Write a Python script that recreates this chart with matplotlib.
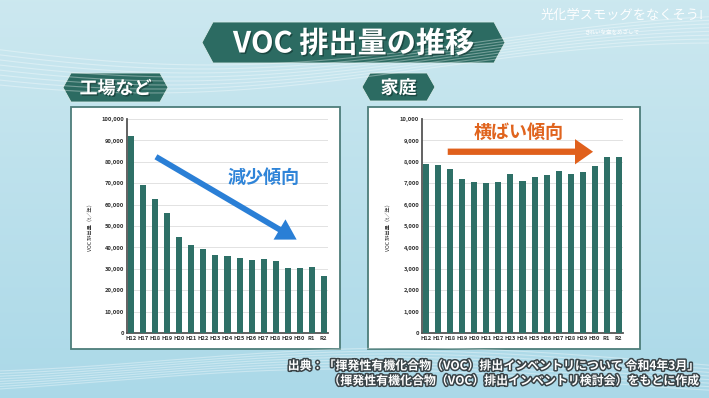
import numpy as np
import matplotlib.pyplot as plt
import matplotlib.patheffects as pe
from matplotlib.patches import Polygon, Rectangle

plt.rcParams['font.family'] = ['Noto Sans CJK JP', 'DejaVu Sans']

# data (t/year)
years = ['H12', 'H17', 'H18', 'H19', 'H20', 'H21', 'H22', 'H23', 'H24',
         'H25', 'H26', 'H27', 'H28', 'H29', 'H30', 'R1', 'R2']
factory = [92000, 69000, 62800, 55900, 44700, 41000, 39100, 36400, 35800,
           35000, 34000, 34600, 33500, 30400, 30400, 30800, 26600]
household = [7900, 7850, 7650, 7210, 7060, 7010, 7060, 7410, 7100,
             7290, 7380, 7550, 7450, 7520, 7800, 8210, 8210]

W, H = 709, 398
fig = plt.figure(figsize=(W / 100, H / 100), dpi=100)

# background: pale blue gradient with a few soft wave lines
bg = fig.add_axes([0, 0, 1, 1])
bg.set_xlim(0, W)
bg.set_ylim(H, 0)
bg.axis('off')
grad = np.linspace(0, 1, 200)[:, None]
top = np.array([0.80, 0.91, 0.94])
bot = np.array([0.67, 0.85, 0.91])
img = top + (bot - top) * grad[..., None]
bg.imshow(np.repeat(img, 2, axis=1), extent=[0, W, H, 0], aspect='auto')
xs = np.linspace(0, W, 300)
for k in range(8):
    bg.plot(xs, 40 + 4 * k + 25 * np.sin(xs / 180 + 0.4 + k * 0.05), color='white', lw=0.8, alpha=0.35)
    bg.plot(xs, 360 + 3 * k + 12 * np.sin(xs / 150 + 2.0 + k * 0.06), color='white', lw=0.8, alpha=0.35)


def banner(x0, x1, y0, y1, tip, text, size):
    ym = (y0 + y1) / 2
    pts = [(x0, ym), (x0 + tip, y0), (x1 - tip, y0), (x1, ym), (x1 - tip, y1), (x0 + tip, y1)]
    bg.add_patch(Polygon(pts, closed=True, facecolor='#2c6b62', edgecolor='#d8ecec', lw=0.6))
    bg.text((x0 + x1) / 2, ym + 1, text, color='white', fontsize=size, fontweight='bold',
            ha='center', va='center',
            path_effects=[pe.withSimplePatchShadow(offset=(1, -1), shadow_rgbFace='#10302c', alpha=0.6)])


banner(202, 505, 22, 63, 11, 'VOC 排出量の推移', 21)
banner(63, 168, 73, 102, 8, '工場など', 13)
banner(362, 435, 73, 101, 8, '家庭', 13)

# white panels behind the charts
bg.add_patch(Rectangle((71, 107), 269, 242, facecolor='white', edgecolor='#4d7d7a', lw=1.3))
bg.add_patch(Rectangle((368, 107), 272, 242, facecolor='white', edgecolor='#4d7d7a', lw=1.3))

# logo at top right
bg.text(622, 15, '光化学スモッグをなくそう!', color='white', fontsize=9.5, ha='center', va='center', alpha=0.95)
bg.text(612, 31, 'きれいな空をめざして', color='white', fontsize=4, ha='center', va='center', alpha=0.9)

# source note
outline = [pe.withStroke(linewidth=2.2, foreground='#3a4448')]
bg.text(697, 366, '出典：「揮発性有機化合物（VOC）排出インベントリについて 令和4年3月」',
        color='white', fontsize=8.6, fontweight='bold', ha='right', va='center', path_effects=outline)
bg.text(697, 381, '（揮発性有機化合物（VOC）排出インベントリ検討会）をもとに作成',
        color='white', fontsize=8.6, fontweight='bold', ha='right', va='center', path_effects=outline)

bar_color = '#2e7067'


def chart(left, values, ymax, step):
    ax = fig.add_axes([left / W, (H - 333) / H, 201 / W, 214 / H])
    x = np.arange(len(years))
    ax.bar(x, values, width=0.5, color=bar_color, zorder=3)
    ax.set_xlim(-0.36, len(years) - 0.64)
    ax.set_ylim(0, ymax)
    ax.set_yticks(np.arange(0, ymax + 1, step))
    ax.set_yticklabels([f'{v:,}' for v in np.arange(0, ymax + 1, step)])
    ax.set_xticks(x)
    ax.set_xticklabels(years)
    ax.tick_params(labelsize=4.2, length=0, pad=2, colors='#333333')
    for lab in ax.get_xticklabels() + ax.get_yticklabels():
        lab.set_fontweight('bold')
    ax.grid(axis='y', color='#e2e2e2', lw=0.7, zorder=0)
    ax.set_facecolor('white')
    for s in ['top', 'right']:
        ax.spines[s].set_visible(False)
    for s in ['left', 'bottom']:
        ax.spines[s].set_color('#555555')
        ax.spines[s].set_linewidth(1.3)
    ax.set_ylabel('VOC 排出量（t／年）', fontsize=3.8, labelpad=6, color='#333333')
    return ax


ax1 = chart(127, factory, 100000, 10000)
ax1.annotate('', xy=(13.95, 43000), xytext=(1.85, 83000),
             arrowprops=dict(arrowstyle='simple,head_length=1.1,head_width=1.3,tail_width=0.32',
                             mutation_scale=13, color='#2a7fd6', lw=0), zorder=5)
ax1.text(11.0, 72500, '減少傾向', color='#2f84d8', fontsize=13, fontweight='bold',
         ha='center', va='center', zorder=6)

ax2 = chart(422, household, 10000, 1000)
ax2.annotate('', xy=(14.1, 8470), xytext=(1.55, 8470),
             arrowprops=dict(arrowstyle='simple,head_length=1.0,head_width=1.4,tail_width=0.35',
                             mutation_scale=13, color='#e0601c', lw=0), zorder=5)
ax2.text(7.65, 9380, '横ばい傾向', color='#e0641e', fontsize=13, fontweight='bold',
         ha='center', va='center', zorder=6)

fig.savefig('out.png', dpi=100)
